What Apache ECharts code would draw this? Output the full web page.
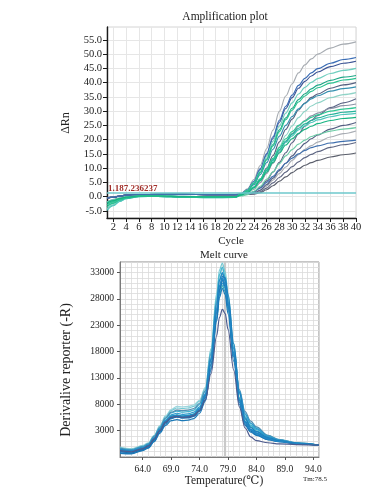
<!DOCTYPE html>
<html>
<head>
<meta charset="utf-8">
<script src="https://cdn.jsdelivr.net/npm/echarts@6/dist/echarts.min.js"></script>
<style>
html,body{margin:0;padding:0;background:#fff;}
#c{width:373px;height:497px;}
</style>
</head>
<body>
<div id="c"></div>
<script>
// ---------- Amplification plot data ----------
const ampCycles = [1,2,3,4,6,9,13,17,21,22,23,24,25,26,27,28,29,30,31,32,33,34,36,38,40];
const ampXTicks = [2,4,6,8,10,12,14,16,18,20,22,24,26,28,30,32,34,36,38,40];
const ampYTicks = [-5,0,5,10,15,20,25,30,35,40,45,50,55];
const ampThreshold = 1.187;
const ampThresholdLabel = '1.187.236237';

const amp01 = [-0.5,-0.2,0.2,0.5,0.7,0.8,0.8,0.7,0.7, 1.1,2.7,6.0,10.9,16.8,23.3,29.9,35.3,39.6,43.4,46.2,48.3,50.0,52.1,53.5,54.3];
const amp02 = [-1.8,-1.1,-0.5,-0.1,0.3,0.3,0.1,0.0,0.0, 1.0,2.4,5.4,9.8,15.1,21.0,26.8,31.7,35.6,39.0,41.5,43.4,44.9,46.8,48.1,48.8];
const amp03 = [-0.5,-0.2,0.2,0.5,0.7,0.8,0.8,0.7,0.7, 1.0,2.4,5.2,9.5,14.7,20.4,26.1,30.9,34.7,38.0,40.4,42.3,43.7,45.6,46.8,47.5];
const amp04 = [-4.5,-3.0,-1.6,-0.7,0.0,0.1,-0.2,-0.4,-0.3, 0.9,2.3,5.0,9.0,14.0,19.4,24.8,29.3,32.9,36.0,38.3,40.1,41.4,43.2,44.3,45.0];
const amp05 = [-2.8,-1.8,-0.9,-0.3,0.2,0.2,0.0,-0.2,-0.2, 0.9,2.1,4.7,8.5,13.2,18.3,23.4,27.6,31.0,34.0,36.1,37.8,39.1,40.8,41.9,42.5];
const amp06 = [-3.5,-2.3,-1.2,-0.5,0.1,0.1,-0.1,-0.3,-0.3, 0.8,2.1,4.6,8.3,12.9,17.8,22.8,27.0,30.3,33.2,35.3,36.9,38.2,39.8,40.9,41.5];
const amp07 = [-0.5,-0.2,0.2,0.5,0.7,0.8,0.8,0.7,0.7, 0.8,1.4,3.2,6.0,10.0,14.4,19.2,23.6,27.2,30.4,32.8,34.8,36.0,38.0,39.2,40.0];
const amp08 = [-2.2,-1.4,-0.7,-0.2,0.2,0.2,0.0,-0.1,-0.1, 0.8,1.9,4.2,7.7,11.9,16.6,21.2,25.0,28.1,30.8,32.7,34.3,35.4,37.0,37.9,38.5];
const amp09 = [-4.2,-2.8,-1.5,-0.6,0.1,0.1,-0.1,-0.3,-0.3, 0.4,1.1,2.9,5.5,9.1,13.1,17.5,21.5,24.8,27.7,29.9,31.8,32.9,34.7,35.8,36.5];
const amp10 = [-0.5,-0.2,0.2,0.5,0.7,0.8,0.8,0.7,0.7, 0.7,0.8,1.6,3.2,5.5,8.6,12.0,15.4,18.9,22.0,24.7,26.8,28.5,31.2,32.9,34.3];
const amp11 = [-0.3,0.0,0.3,0.5,0.7,0.8,0.8,0.7,0.7, 0.8,1.2,2.6,4.9,8.1,11.7,15.6,19.2,22.1,24.7,26.7,28.3,29.3,30.9,31.9,32.5];
const amp12 = [-2.8,-1.8,-0.9,-0.3,0.2,0.2,0.0,-0.2,-0.2, 0.6,1.6,3.4,6.2,9.7,13.4,17.2,20.3,22.8,25.0,26.5,27.8,28.7,30.0,30.7,31.2];
const amp13 = [-3.5,-2.3,-1.2,-0.5,0.1,0.1,-0.1,-0.3,-0.3, 0.6,1.5,3.3,6.0,9.3,12.9,16.5,19.5,21.9,24.0,25.5,26.7,27.6,28.8,29.6,30.0];
const amp14 = [-4.8,-3.2,-1.7,-0.7,0.0,0.1,-0.2,-0.4,-0.3, 0.6,1.5,3.2,5.8,9.1,12.6,16.1,19.0,21.3,23.4,24.8,26.0,26.9,28.0,28.8,29.2];
const amp15 = [-2.2,-1.4,-0.7,-0.2,0.2,0.2,0.0,-0.1,-0.1, 0.6,1.4,3.1,5.6,8.6,12.0,15.3,18.1,20.3,22.2,23.6,24.7,25.6,26.7,27.4,27.8];
const amp16 = [-0.5,-0.2,0.2,0.5,0.7,0.8,0.8,0.7,0.7, 0.7,0.8,1.2,2.3,4.2,6.5,9.1,11.7,14.3,16.6,18.7,20.3,21.6,23.7,25.0,26.0];
const amp17 = [-1.8,-1.1,-0.5,-0.1,0.3,0.3,0.1,0.0,0.0, 0.2,0.7,1.9,3.6,6.1,8.7,11.6,14.3,16.5,18.4,19.8,21.1,21.8,23.0,23.7,24.2];
const amp18 = [-0.5,-0.2,0.2,0.5,0.7,0.8,0.8,0.7,0.7, 0.7,0.8,1.1,2.1,3.7,5.8,8.1,10.4,12.7,14.7,16.6,17.9,19.1,20.9,22.1,23.0];
const amp19 = [-0.5,-0.2,0.2,0.5,0.7,0.8,0.8,0.7,0.7, 0.8,1.0,1.7,3.0,5.0,7.1,9.5,11.7,13.5,15.0,16.2,17.2,17.8,18.8,19.4,19.8];
const amp20 = [-0.5,-0.2,0.2,0.5,0.7,0.8,0.8,0.7,0.7, 0.7,0.8,1.0,1.7,3.0,4.8,6.7,8.6,10.5,12.2,13.7,14.8,15.8,17.3,18.2,19.0];
const amp21 = [-0.5,-0.2,0.2,0.5,0.7,0.8,0.8,0.7,0.7, 0.7,0.8,0.9,1.4,2.4,3.8,5.4,6.9,8.4,9.8,11.0,11.9,12.7,13.9,14.7,15.3];

// drawing order (bottom -> top) and colours
const ampOrder  = [amp01,amp18,amp21,amp20,amp16,amp10,amp07,amp11,amp03,amp02,amp19,amp08,amp09,amp04,amp17,amp14,amp13,amp05,amp06,amp12,amp15];
const ampColors = ['#a7acb2','#a9adb4','#5b5f6c','#5e6683','#535e82','#5d6687','#556080','#8a92a5','#3d5595','#3b6db5','#3f6fae','#3590b0','#8fd3c6','#6fcfbf','#6ccca6','#4fc6bc','#23b39a','#1fa888','#2cc291','#30c795','#17b482'];

// ---------- Melt curve data ----------
const meltTemps = [60,62,64,65,66,67,68,69,70,71,72,73,74,75,76,77,77.5,78,78.5,79,80,81,82,83,84,86,88,91,95];
const meltXTicks = [64,69,74,79,84,89,94];
const meltYTicks = [3000,8000,13000,18000,23000,28000,33000];
const meltTm = 78.5;

const melt01 = [-200,-500,100,600,2000,3800,5600,6800,7300,7200,7300,7600,8600,11000,18500,29000,33500,34800,33200,29000,19500,10500,6000,4400,3600,2100,1300,700,250];
const melt02 = [-400,-700,-100,400,1800,3500,5300,6400,6700,6500,6600,6900,8000,10500,17800,28000,32600,34000,32200,28200,18800,10000,5600,4000,3200,1900,1200,650,250];
const melt03 = [-900,-1100,-500,0,1300,3000,4600,5500,5700,5500,5600,5900,7000,9600,16800,27000,31600,33000,31500,27500,17800,9000,4800,3300,2600,1600,1000,600,250];
const melt04 = [-1200,-1300,-700,-200,1000,2700,4300,5300,5600,5400,5400,5700,6700,8800,14500,24000,29500,32300,32000,28800,19500,10200,5400,3600,2800,1700,1100,600,250];
const melt05 = [-600,-850,-300,200,1500,3200,4800,5700,5900,5700,5800,6100,7200,9800,16500,26000,30500,32000,30800,27000,17500,8800,4600,3200,2500,1500,1000,600,250];
const melt06 = [-1000,-1200,-600,-100,1200,2900,4500,5400,5600,5400,5500,5800,6800,9200,15600,25200,29800,31500,30300,26600,17000,8400,4300,2900,2200,1300,900,550,250];
const melt07 = [-500,-700,-100,400,1700,3400,5000,6000,6300,6100,6200,6500,7500,10000,16400,25500,29600,31000,30000,26800,18500,10500,6200,4400,3400,1900,1200,650,250];
const melt08 = [-700,-900,-300,200,1500,3200,4800,5800,6000,5800,5900,6200,7200,9500,15500,24500,28800,30500,29400,26000,17200,9200,5200,3700,2900,1700,1100,600,250];
const melt09 = [-1300,-1400,-800,-300,900,2500,4000,4900,5100,4900,5000,5300,6300,8600,14800,23800,28300,30000,28800,25200,16200,8000,4000,2700,2100,1300,900,500,250];
const melt10 = [-800,-1000,-400,100,1400,3000,4600,5500,5700,5500,5600,5900,6800,8800,13800,21000,24500,26000,25200,22200,14500,7500,3500,1800,1100,700,500,350,250];
const melt11 = [-300,-600,0,500,1900,3600,5400,6500,6900,6800,6900,7200,8200,10600,17500,27300,31500,32800,31400,27600,18600,10800,6600,4800,3700,2100,1300,700,250];
const melt12 = [-100,-400,200,700,2100,3900,5800,7000,7600,7500,7600,7900,8800,11200,18200,28400,32600,33800,32400,28400,19000,10200,5800,4200,3400,2000,1250,700,250];
const melt13 = [-600,-850,-300,200,1500,3200,4800,5700,5900,5700,5800,6100,7200,9800,16500,26000,30400,31800,30600,26900,17400,8700,4500,3100,2400,1450,950,550,250];

const meltOrder  = [melt12,melt01,melt02,melt11,melt07,melt08,melt03,melt04,melt05,melt06,melt09,melt13,melt10];
const meltColors = ['#9fd6de','#72c9d4','#3eb1cf','#4f8fb4','#2a9ad0','#2fa5b9','#1a8ac8','#1f7dbd','#1b84c4','#1d6fb0','#1b79b8','#2287c4','#4d5b8e'];

// ---------- chart ----------
const SERIF = '"Liberation Serif","DejaVu Serif",serif';
const TXT = '#222';
const chart = echarts.init(document.getElementById('c'), null, {renderer: 'canvas'});

const series = [];
ampOrder.forEach((arr, i) => {
  series.push({
    type: 'line', xAxisIndex: 0, yAxisIndex: 0,
    data: ampCycles.map((c, k) => [c, arr[k]]),
    showSymbol: false, smooth: 0.35, smoothMonotone: 'x',
    lineStyle: {width: 1.15, color: ampColors[i]},
    itemStyle: {color: ampColors[i]},
    silent: true, animation: false, z: 3
  });
});
// threshold line
series.push({
  type: 'line', xAxisIndex: 0, yAxisIndex: 0, data: [], animation: false,
  markLine: {
    silent: true, symbol: ['none', 'none'], animation: false,
    lineStyle: {color: '#6ec9cc', width: 1.6, type: 'solid'},
    label: {
      show: true, position: 'insideStartTop', distance: [1, 0],
      formatter: ampThresholdLabel, color: '#a3302b', fontSize: 9,
      fontWeight: 'bold', fontFamily: SERIF
    },
    data: [{yAxis: ampThreshold}]
  },
  z: 4
});
// melt curves
meltOrder.forEach((arr, i) => {
  series.push({
    type: 'line', xAxisIndex: 1, yAxisIndex: 1,
    data: meltTemps.map((t, k) => [t, arr[k]]),
    showSymbol: false, smooth: 0.35, smoothMonotone: 'x',
    lineStyle: {width: 1.2, color: meltColors[i]},
    itemStyle: {color: meltColors[i]},
    silent: true, animation: false, z: 3
  });
});
// Tm line
series.push({
  type: 'line', xAxisIndex: 1, yAxisIndex: 1, data: [], animation: false, z: 2,
  markLine: {
    silent: true, symbol: ['none', 'none'], animation: false, z: 2,
    lineStyle: {color: '#c9c9c9', width: 2.2, type: 'solid'},
    label: {show: false},
    data: [{xAxis: meltTm}]
  }
});

const option = {
  backgroundColor: '#fff',
  animation: false,
  grid: [
    {left: 107, top: 27, width: 249, height: 191, show: true, borderColor: '#d4d4d4', borderWidth: 1},
    {left: 120, top: 262, width: 199, height: 195, show: true, borderColor: '#8c8c8c', borderWidth: 1}
  ],
  xAxis: [
    {
      type: 'value', gridIndex: 0, min: 1, max: 40, position: 'bottom',
      axisLine: {show: true, onZero: false, lineStyle: {color: '#1a1a1a', width: 1.4}},
      axisTick: {show: true, customValues: ampXTicks, length: 4, lineStyle: {color: '#1a1a1a'}},
      axisLabel: {customValues: ampXTicks, fontFamily: SERIF, fontSize: 10.5, color: TXT, margin: 4},
      splitLine: {show: true, lineStyle: {color: '#e6e6e6', width: 1}}
    },
    {
      type: 'value', gridIndex: 1, min: 60, max: 95, interval: 1, position: 'bottom',
      axisLine: {show: true, onZero: false, lineStyle: {color: '#7a7a7a', width: 1}},
      axisTick: {show: false}, axisLabel: {show: false},
      splitLine: {show: true, lineStyle: {color: '#dadada', width: 0.8}}
    },
    {
      type: 'value', gridIndex: 1, min: 60, max: 95, position: 'bottom',
      axisLine: {show: false, onZero: false},
      axisTick: {show: true, customValues: meltXTicks, length: 3, lineStyle: {color: '#555'}},
      axisLabel: {customValues: meltXTicks, formatter: v => v.toFixed(1), fontFamily: SERIF, fontSize: 9.5, color: TXT, margin: 7},
      splitLine: {show: false}
    }
  ],
  yAxis: [
    {
      type: 'value', gridIndex: 0, min: -7.5, max: 59.5, position: 'left',
      axisLine: {show: true, onZero: false, lineStyle: {color: '#1a1a1a', width: 1.4}},
      axisTick: {show: true, customValues: ampYTicks, length: 4, lineStyle: {color: '#1a1a1a'}},
      axisLabel: {customValues: ampYTicks, formatter: v => v.toFixed(1), fontFamily: SERIF, fontSize: 10.5, color: TXT, margin: 5},
      splitLine: {show: true, lineStyle: {color: '#e6e6e6', width: 1}}
    },
    {
      type: 'value', gridIndex: 1, min: -2000, max: 35000, interval: 1000, position: 'left',
      axisLine: {show: true, onZero: false, lineStyle: {color: '#7a7a7a', width: 1}},
      axisTick: {show: false}, axisLabel: {show: false},
      splitLine: {show: true, lineStyle: {color: '#dadada', width: 0.8}}
    },
    {
      type: 'value', gridIndex: 1, min: -2000, max: 35000, position: 'left',
      axisLine: {show: false, onZero: false},
      axisTick: {show: true, customValues: meltYTicks, length: 3, lineStyle: {color: '#555'}},
      axisLabel: {customValues: meltYTicks, formatter: v => String(v), fontFamily: SERIF, fontSize: 9.5, color: TXT, margin: 6},
      splitLine: {show: false}
    }
  ],
  series: series,
  graphic: [
    {type: 'text', x: 225, y: 17, style: {text: 'Amplification plot', fontFamily: SERIF, fontSize: 11.5, fill: TXT, textAlign: 'center', textVerticalAlign: 'middle'}},
    {type: 'text', x: 66, y: 123, rotation: Math.PI / 2, style: {text: 'ΔRn', fontFamily: SERIF, fontSize: 12, fill: TXT, textAlign: 'center', textVerticalAlign: 'middle'}},
    {type: 'text', x: 231, y: 241, style: {text: 'Cycle', fontFamily: SERIF, fontSize: 11, fill: TXT, textAlign: 'center', textVerticalAlign: 'middle'}},
    {type: 'text', x: 224, y: 255, style: {text: 'Melt curve', fontFamily: SERIF, fontSize: 11, fill: TXT, textAlign: 'center', textVerticalAlign: 'middle'}},
    {type: 'text', x: 66, y: 370, rotation: Math.PI / 2, style: {text: 'Derivalive reporter (-R)', fontFamily: SERIF, fontSize: 14, fill: TXT, textAlign: 'center', textVerticalAlign: 'middle'}},
    {type: 'text', x: 224, y: 481, style: {text: 'Temperature(℃)', fontFamily: SERIF, fontSize: 11.5, fill: TXT, textAlign: 'center', textVerticalAlign: 'middle'}},
    {type: 'text', x: 315, y: 479, style: {text: 'Tm:78.5', fontFamily: SERIF, fontSize: 7, fill: TXT, textAlign: 'center', textVerticalAlign: 'middle'}}
  ]
};
chart.setOption(option);
</script>
</body>
</html>
